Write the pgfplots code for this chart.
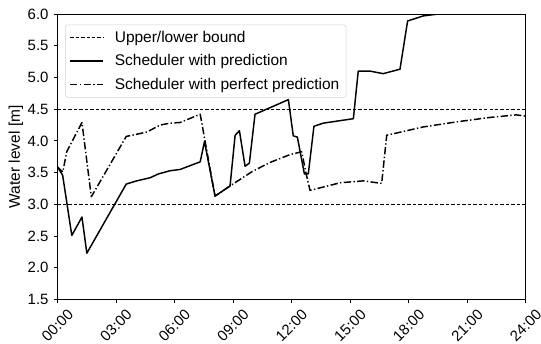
\documentclass[border=0pt]{standalone}
\usepackage{pgfplots}
\pgfplotsset{compat=1.18}
\usepackage{fontspec}
\setmainfont{Liberation Sans}
\usepackage{graphicx}

\begin{document}
\begin{tikzpicture}
\fontsize{11}{13}\selectfont
% fixed page frame around the axis box (axis south west sits at the origin)
\path[use as bounding box] (-43pt,-32.8pt) rectangle (362.5pt,224.5pt);
\begin{axis}[
  scale only axis,
  width=351pt, height=214pt,
  xmin=0, xmax=24, ymin=1.5, ymax=6,
  xtick={0,3,...,24},
  xticklabels={\rotatebox{45}{00:00},\rotatebox{45}{03:00},\rotatebox{45}{06:00},
               \rotatebox{45}{09:00},\rotatebox{45}{12:00},\rotatebox{45}{15:00},
               \rotatebox{45}{18:00},\rotatebox{45}{21:00},\rotatebox{45}{24:00}},
  ytick={1.5,2,...,6},
  yticklabel style={/pgf/number format/fixed,/pgf/number format/fixed zerofill,
                    /pgf/number format/precision=1},
  /pgf/number format/assume math mode=true,
  tick align=outside,
  tick pos=left,
  major tick length=2.8pt,
  every tick/.style={black, line width=0.6pt},
  axis line style={line width=0.6pt},
  ylabel={Water level [m]},
  ylabel style={yshift=-4pt},
  tick label style={font=\fontsize{11.2}{13}\selectfont},
  label style={font=\fontsize{11.6}{13}\selectfont},
  legend cell align=left,
  legend image code/.code={\draw[#1] (0pt,0pt) -- (25pt,0pt);},
  legend style={
    at={(0.0165,0.963)}, anchor=north west,
    draw=black!18, rounded corners=2pt, fill=white, fill opacity=0.85, text opacity=1,
    font=\fontsize{11.6}{13}\selectfont,
    inner xsep=3pt, inner ysep=2.5pt, row sep=3.6pt,
    /tikz/every odd column/.append style={column sep=6pt},
  },
]
% upper and lower bounds
\addplot[black, line width=0.7pt, dash pattern=on 2.6pt off 1.5pt]
  coordinates {(0,4.5) (24,4.5)};
\addlegendentry{Upper/lower bound}
\addplot[black, line width=0.7pt, dash pattern=on 2.6pt off 1.5pt, forget plot]
  coordinates {(0,3.0) (24,3.0)};

% scheduler with forecast
\addplot[black, line width=1.1pt, line join=round] coordinates {
  (0,3.59) (0.27,3.46) (0.74,2.51) (1.26,2.80) (1.51,2.23) (3.53,3.32)
  (4.07,3.37) (4.76,3.42) (5.18,3.48) (5.78,3.53) (6.29,3.55) (7.32,3.67)
  (7.54,3.99) (8.08,3.13) (8.85,3.29) (9.11,4.09) (9.33,4.16) (9.62,3.60)
  (9.84,3.65) (10.13,4.42) (11.84,4.65) (12.09,4.08) (12.30,4.06) (12.66,3.48)
  (12.86,3.48) (13.15,4.23) (13.63,4.28) (15.17,4.35) (15.42,5.10) (16.02,5.10)
  (16.70,5.06) (17.56,5.13) (17.95,5.89) (18.75,5.97) (19.78,6.01) (21,6.10)
  (22.5,6.20) (24,6.30)
};
\addlegendentry{Scheduler with prediction}

% scheduler with exact forecast
\addplot[black, line width=1.1pt, line join=round,
         dash pattern=on 5.5pt off 1.8pt on 1pt off 1.8pt] coordinates {
  (0,3.59) (0.28,3.51) (0.48,3.83) (1.26,4.29) (1.74,3.12) (3.53,4.07)
  (4.59,4.14) (5.27,4.25) (5.78,4.28) (6.29,4.29) (7.32,4.42) (8.08,3.13)
  (8.85,3.29) (10.0,3.52) (10.9,3.66) (11.89,3.78) (12.52,3.83) (12.78,3.44)
  (12.95,3.22) (14.49,3.34) (15.68,3.37) (16.62,3.33) (16.88,4.09) (17.04,4.10)
  (18.75,4.22) (20.46,4.30) (22.17,4.37) (23.53,4.41) (24,4.39)
};
\addlegendentry{Scheduler with perfect prediction}
\end{axis}
\end{tikzpicture}
\end{document}
